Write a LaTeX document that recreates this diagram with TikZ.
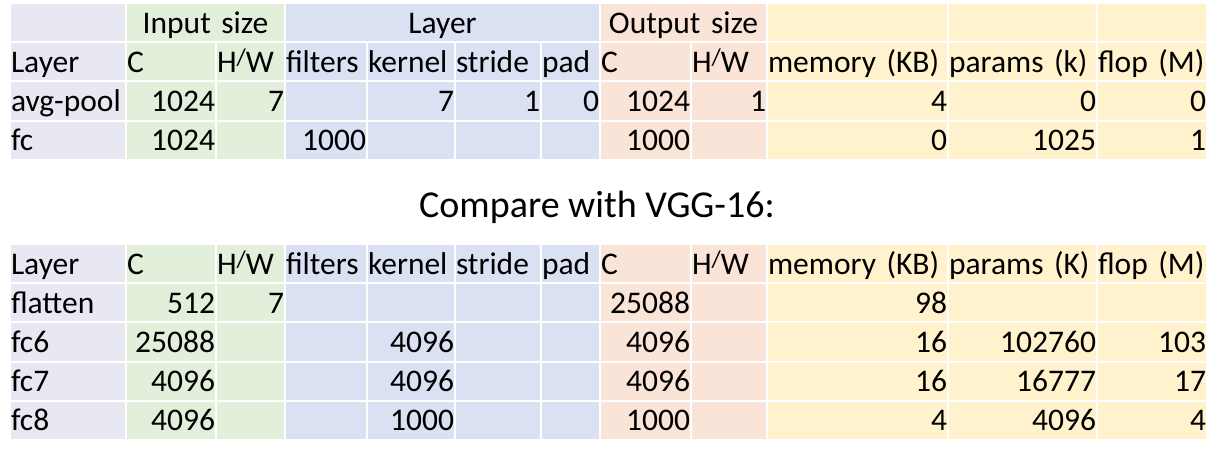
\documentclass[tikz,border=0pt]{standalone}
\usepackage{fontspec}
\setmainfont{Carlito}
\usepackage{tikz}
\definecolor{layergrey}{RGB}{232,232,243}
\definecolor{inputgreen}{RGB}{226,239,218}
\definecolor{layerblue}{RGB}{217,225,242}
\definecolor{outputorange}{RGB}{250,228,215}
\definecolor{costyellow}{RGB}{255,242,204}
\tikzset{
  cell/.style   = {shape=rectangle, anchor=north west, draw=white, line width=1pt,
                   inner xsep=0.5pt, inner ysep=0pt, outer sep=0pt,
                   minimum height=19.6pt, text height=13pt, text depth=2.6pt,
                   font=\fontsize{15.75}{18}\selectfont},
  align0/.style = {align=left},
  align1/.style = {align=right},
  head/.style   = {cell, align=center},
  title/.style  = {anchor=base, font=\fontsize{19}{22}\selectfont},
}
\newcommand\nocell{}
\newcommand\hslashw{H\raisebox{.2em}{\fontsize{12}{12}\selectfont/}W}

\begin{document}
\begin{tikzpicture}[x=0.5pt, y=-0.5pt]
  \useasboundingbox (0,0) rectangle (1218,462);
  % group heads of the first table
  \foreach \xl/\colw/\cellcol/\txt [count=\k] in {10/116/layergrey/\nocell,
      126/159/inputgreen/Input size, 285/315/layerblue/Layer,
      600/167/outputorange/Output size, 767/181/costyellow/\nocell,
      948/149/costyellow/\nocell, 1097/110/costyellow/\nocell}
  {
    \pgfmathsetmacro\tw{\colw/2-1}
    \node [head, fill=\cellcol, text width=\tw pt] (group-\k) at (\xl,3) {\mbox{\txt}};
  }
  % columns of both tables: first table, then VGG-16
  \foreach \n/\xl/\colw/\cellcol/\avals/\bvals in {
      0/10/116/layergrey/{Layer,avg-pool,fc}/{Layer,flatten,fc6,fc7,fc8},
      1/126/90/inputgreen/{C,1024,1024}/{C,512,25088,4096,4096},
      2/216/69/inputgreen/{\hslashw,7,\nocell}/{\hslashw,7,\nocell,\nocell,\nocell},
      3/285/82/layerblue/{filters,\nocell,1000}/{filters,\nocell,\nocell,\nocell,\nocell},
      4/367/88/layerblue/{kernel,7,\nocell}/{kernel,\nocell,4096,4096,1000},
      5/455/86/layerblue/{stride,1,\nocell}/{stride,\nocell,\nocell,\nocell,\nocell},
      6/541/59/layerblue/{pad,0,\nocell}/{pad,\nocell,\nocell,\nocell,\nocell},
      7/600/91/outputorange/{C,1024,1000}/{C,25088,4096,4096,1000},
      8/691/76/outputorange/{\hslashw,1,\nocell}/{\hslashw,\nocell,\nocell,\nocell,\nocell},
      9/767/181/costyellow/{memory (KB),4,0}/{memory (KB),98,16,16,4},
      10/948/149/costyellow/{params (k),0,1025}/{params (K),\nocell,102760,16777,4096},
      11/1097/110/costyellow/{flop (M),0,1}/{flop (M),\nocell,103,17,4}}
  {
    \pgfmathsetmacro\tw{\colw/2-1}
    \foreach \val [count=\row from 0] in \avals {
      \pgfmathtruncatemacro\isnum{\row>0 && \n>0}
      \node [cell, align\isnum, fill=\cellcol, text width=\tw pt]
        (a-\row-\n) at (\xl,42.2+39.2*\row) {\mbox{\val}};
    }
    \foreach \val [count=\row from 0] in \bvals {
      \pgfmathtruncatemacro\isnum{\row>0 && \n>0}
      \node [cell, align\isnum, fill=\cellcol, text width=\tw pt]
        (b-\row-\n) at (\xl,244+39.2*\row) {\mbox{\val}};
    }
  }
  \node [title] (compare) at (597,217) {Compare with VGG-16:};
\end{tikzpicture}
\end{document}
